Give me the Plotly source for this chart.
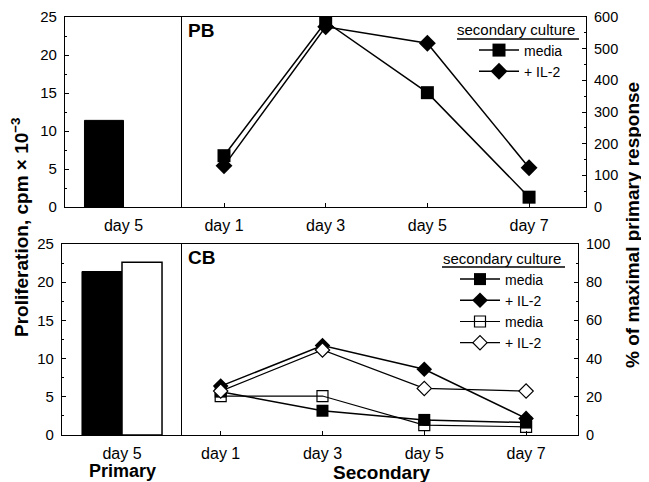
import plotly.graph_objects as go

# the page body adds an 8 px margin, so the figure is drawn 8 px smaller
# and all layout positions below are given in window pixels.
OFF = 8
W, H = 649 - OFF, 482 - OFF

# ---------------- data ----------------
primary_labels = ["day 5"]
pb_primary_black = [11.4]
pb_primary_white = [None]
cb_primary_black = [21.4]
cb_primary_white = [22.6]

secondary_days = [1, 3, 5, 7]
secondary_labels = ["day 1", "day 3", "day 5", "day 7"]

pb_media = [162, 585, 361, 31]
pb_il2 = [130, 569, 517, 124]

cb_media_filled = [22.7, 12.7, 7.9, 6.5]
cb_il2_filled = [25.6, 46.8, 34.4, 8.7]
cb_media_open = [20.4, 20.4, 5.2, 4.3]
cb_il2_open = [23.0, 44.5, 24.4, 23.0]

FONT = "Liberation Sans, Arial, Helvetica, sans-serif"


def px_x(p):
    return (p - OFF) / W


def px_y(p):
    return 1 - (p - OFF) / H


fig = go.Figure()

# primary bars
fig.add_trace(go.Bar(x=primary_labels, y=pb_primary_black, marker=dict(color="black", line=dict(color="black", width=1)),
                     xaxis="x", yaxis="y", showlegend=False))
fig.add_trace(go.Bar(x=primary_labels, y=pb_primary_white, marker=dict(color="white", line=dict(color="black", width=1.5)),
                     xaxis="x", yaxis="y", showlegend=False))
fig.add_trace(go.Bar(x=primary_labels, y=cb_primary_black, marker=dict(color="black", line=dict(color="black", width=1)),
                     xaxis="x3", yaxis="y3", showlegend=False))
fig.add_trace(go.Bar(x=primary_labels, y=cb_primary_white, marker=dict(color="white", line=dict(color="black", width=1.5)),
                     xaxis="x3", yaxis="y3", showlegend=False))

line = dict(color="black", width=1.5)

# PB secondary
fig.add_trace(go.Scatter(x=secondary_days, y=pb_media, mode="lines+markers", name="media",
                         line=line, marker=dict(symbol="square", size=13, color="black"),
                         xaxis="x2", yaxis="y2", legend="legend"))
fig.add_trace(go.Scatter(x=secondary_days, y=pb_il2, mode="lines+markers", name="+ IL-2",
                         line=line, marker=dict(symbol="diamond", size=13, color="black"),
                         xaxis="x2", yaxis="y2", legend="legend"))

# CB secondary
fig.add_trace(go.Scatter(x=secondary_days, y=cb_media_filled, mode="lines+markers", name="media",
                         line=line, marker=dict(symbol="square", size=12, color="black"),
                         xaxis="x4", yaxis="y4", legend="legend2"))
fig.add_trace(go.Scatter(x=secondary_days, y=cb_il2_filled, mode="lines+markers", name="+ IL-2",
                         line=line, marker=dict(symbol="diamond", size=12, color="black"),
                         xaxis="x4", yaxis="y4", legend="legend2"))
fig.add_trace(go.Scatter(x=secondary_days, y=cb_media_open, mode="lines+markers", name="media",
                         line=dict(color="black", width=1.2),
                         marker=dict(symbol="square-open", size=11, color="black", line=dict(width=1.2)),
                         xaxis="x4", yaxis="y4", legend="legend2"))
fig.add_trace(go.Scatter(x=secondary_days, y=cb_il2_open, mode="lines+markers", name="+ IL-2",
                         line=dict(color="black", width=1.2),
                         marker=dict(symbol="diamond", size=11, color="white", line=dict(width=1.2, color="black")),
                         xaxis="x4", yaxis="y4", legend="legend2"))

axis_common = dict(showline=True, linecolor="black", linewidth=1.2, mirror=True, showgrid=False,
                   zeroline=False, ticks="inside", tickcolor="black", ticklen=4, automargin=False,
                   ticklabelstandoff=4,
                   tickfont=dict(family=FONT, size=15, color="black"))

x_bar = dict(axis_common, type="category", range=[-0.5, 0.5], ticks="",
             tickfont=dict(family=FONT, size=16, color="black"))
x_line = dict(axis_common, tickvals=secondary_days, ticktext=secondary_labels,
              tickfont=dict(family=FONT, size=16, color="black"))


def minor(d):
    return dict(dtick=d, ticks="inside", ticklen=2, tickcolor="black")


fig.update_layout(
    width=W, height=H,
    margin=dict(l=0, r=0, t=0, b=0, autoexpand=False),
    paper_bgcolor="white", plot_bgcolor="white",
    font=dict(family=FONT, color="black"),
    barmode="group", bargap=0.333, bargroupgap=0,
    xaxis=dict(x_bar, domain=[px_x(65), px_x(182)], anchor="y"),
    yaxis=dict(axis_common, domain=[px_y(207), px_y(17)], range=[0, 25], dtick=5, anchor="x", mirror=False,
               minor=minor(2.5)),
    xaxis2=dict(x_line, domain=[px_x(182), px_x(586)], range=[0.174, 8.12], anchor="y2"),
    yaxis2=dict(axis_common, domain=[px_y(207), px_y(17)], range=[0, 600], dtick=100, side="right",
                anchor="x2", tickfont=dict(family=FONT, size=14.5, color="black"), minor=minor(50)),
    xaxis3=dict(x_bar, domain=[px_x(62), px_x(182)], anchor="y3"),
    yaxis3=dict(axis_common, domain=[px_y(435), px_y(244)], range=[0, 25], dtick=5, anchor="x3", mirror=False,
                minor=minor(2.5)),
    xaxis4=dict(x_line, domain=[px_x(182), px_x(578)], range=[0.24, 8.02], anchor="y4"),
    yaxis4=dict(axis_common, domain=[px_y(435), px_y(244)], range=[0, 100], dtick=20, side="right",
                anchor="x4", tickfont=dict(family=FONT, size=14.5, color="black"), minor=minor(10)),
    legend=dict(x=px_x(455), y=px_y(15), xanchor="left", yanchor="top",
                title=dict(text="secondary culture", font=dict(family=FONT, size=15, color="black")),
                font=dict(family=FONT, size=14, color="black"), bgcolor="rgba(0,0,0,0)",
                indentation=19, itemwidth=40, tracegroupgap=0),
    legend2=dict(x=px_x(441), y=px_y(244), xanchor="left", yanchor="top",
                 title=dict(text="secondary culture", font=dict(family=FONT, size=15, color="black")),
                 font=dict(family=FONT, size=14, color="black"), bgcolor="rgba(0,0,0,0)",
                 indentation=14, itemwidth=40, tracegroupgap=0),
)

# underlines of legend titles
fig.add_shape(type="line", xref="paper", yref="paper", x0=px_x(457), x1=px_x(579), y0=px_y(39), y1=px_y(39),
              line=dict(color="black", width=1.5))
fig.add_shape(type="line", xref="paper", yref="paper", x0=px_x(442), x1=px_x(565), y0=px_y(267), y1=px_y(267),
              line=dict(color="black", width=1.5))

bold = dict(family=FONT, color="black")
fig.add_annotation(text="<b>PB</b>", xref="paper", yref="paper", x=px_x(186), y=px_y(31),
                   xanchor="left", yanchor="middle", showarrow=False, font=dict(bold, size=19))
fig.add_annotation(text="<b>CB</b>", xref="paper", yref="paper", x=px_x(186), y=px_y(257),
                   xanchor="left", yanchor="middle", showarrow=False, font=dict(bold, size=19))
fig.add_annotation(text="<b>Proliferation, cpm × 10<sup>−3</sup></b>", xref="paper", yref="paper",
                   x=px_x(20), y=px_y(227), xanchor="center", yanchor="middle",
                   textangle=-90, showarrow=False, font=dict(bold, size=19))
fig.add_annotation(text="<b>% of maximal primary response</b>", xref="paper", yref="paper",
                   x=px_x(632), y=px_y(225), xanchor="center", yanchor="middle",
                   textangle=-90, showarrow=False, font=dict(bold, size=19))
fig.add_annotation(text="<b>Primary</b>", xref="paper", yref="paper", x=px_x(122), y=px_y(471),
                   xanchor="center", yanchor="middle", showarrow=False, font=dict(bold, size=18))
fig.add_annotation(text="<b>Secondary</b>", xref="paper", yref="paper", x=px_x(382), y=px_y(472),
                   xanchor="center", yanchor="middle", showarrow=False, font=dict(bold, size=19))

fig.write_html("out.html")
